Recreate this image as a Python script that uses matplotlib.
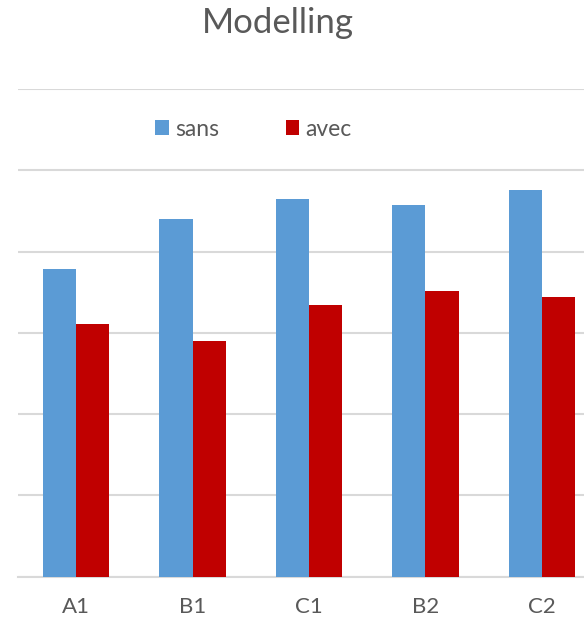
import matplotlib
matplotlib.use("Agg")
import matplotlib.pyplot as plt
import numpy as np
from matplotlib.patches import Patch

categories = ["A1", "B1", "C1", "B2", "C2"]
sans = [37.8, 44.0, 46.5, 45.7, 47.6]
avec = [31.1, 29.0, 33.4, 35.1, 34.4]
y_ticks = [0, 10, 20, 30, 40, 50, 60]

BLUE = "#5B9BD5"
RED = "#C00000"
TEXT = "#595959"
GRID = "#D9D9D9"

plt.rcParams["font.family"] = ["Lato", "DejaVu Sans"]

W, H = 584, 619
fig = plt.figure(figsize=(W / 100, H / 100), dpi=100)

left_px, right_px = 17.75, 600.25
base_px, top_px = 576.5, 89.0
ax = fig.add_axes([left_px / W, (H - base_px) / H,
                   (right_px - left_px) / W, (base_px - top_px) / H])

x = np.arange(len(categories))
bw = 1 / 3.5
ax.bar(x - bw / 2, sans, bw, color=BLUE, zorder=3, linewidth=0)
ax.bar(x + bw / 2, avec, bw, color=RED, zorder=3, linewidth=0)

ax.set_xlim(-0.5, len(categories) - 0.5)
ax.set_ylim(y_ticks[0], y_ticks[-1])
ax.set_yticks(y_ticks)
ax.set_yticklabels([])
ax.tick_params(axis="y", length=0)
ax.grid(axis="y", color=GRID, linewidth=1.5, zorder=0)
ax.set_xticks(x)
ax.set_xticklabels(categories, color=TEXT, fontsize=16)
ax.tick_params(axis="x", length=0, pad=15)
for s in ["top", "right", "left"]:
    ax.spines[s].set_visible(False)
ax.spines["bottom"].set_color(GRID)
ax.spines["bottom"].set_linewidth(1.5)
ax.set_axisbelow(True)

fig.text(278 / W, 1 - 33.3 / H, "Modelling", ha="center", va="baseline",
         color=TEXT, fontsize=25)

handles = [Patch(facecolor=BLUE, label="sans"), Patch(facecolor=RED, label="avec")]
fig.legend(handles=handles, loc="center", bbox_to_anchor=(253.5 / W, 1 - 129 / H),
           ncol=2, frameon=False, fontsize=16.5, labelcolor=TEXT,
           handlelength=0.6, handleheight=0.6, handletextpad=0.27,
           columnspacing=2.9, borderpad=0, borderaxespad=0)

fig.savefig("out.png", dpi=100)
